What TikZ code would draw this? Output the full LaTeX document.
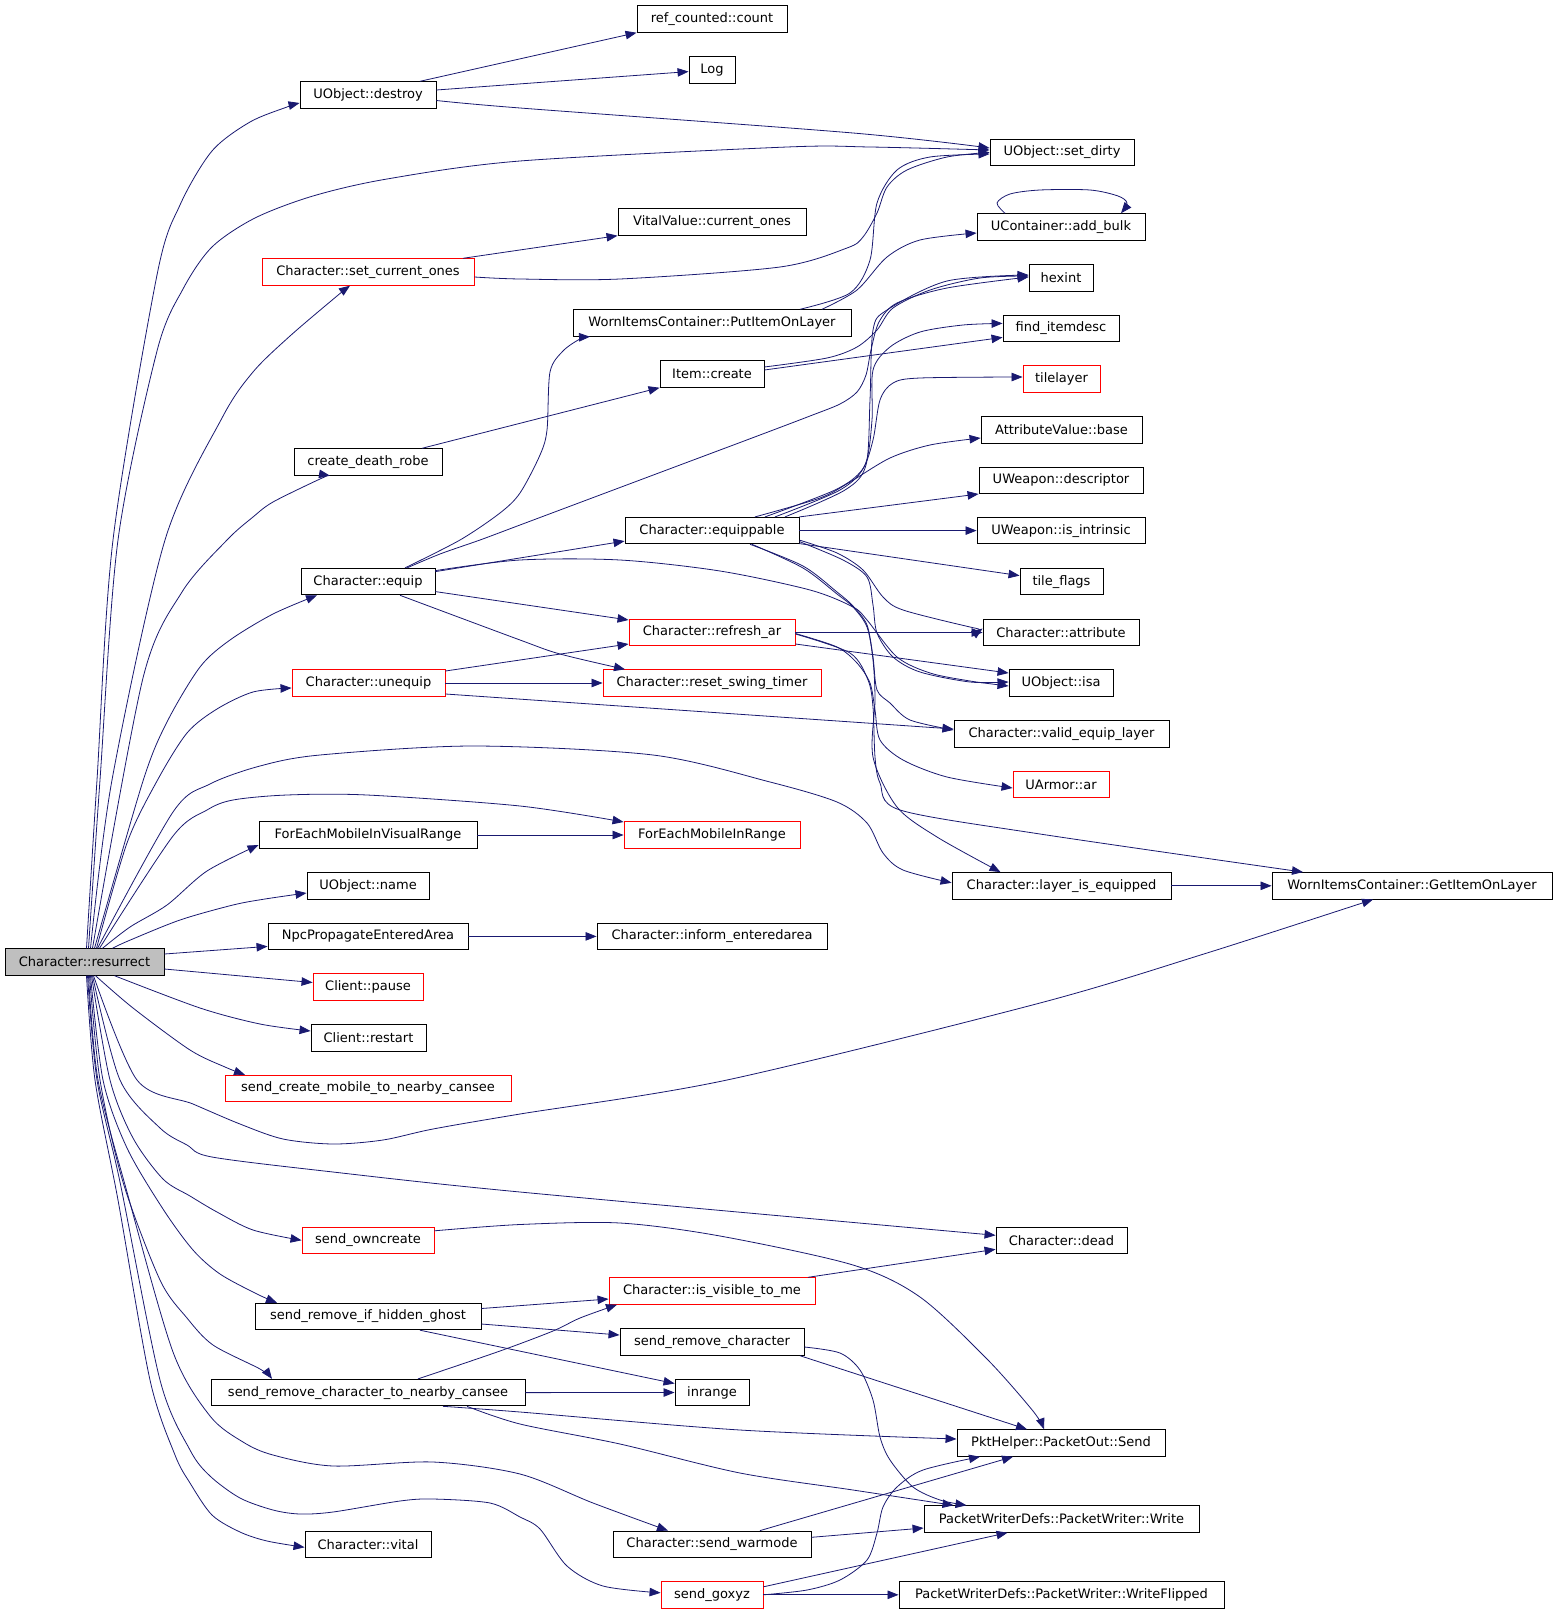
\documentclass[tikz,border=0pt]{standalone}
\usepackage{fontspec}
\setmainfont{DejaVu Sans}
\usetikzlibrary{arrows.meta}
\definecolor{edgec}{HTML}{191970}
\definecolor{rboxc}{HTML}{FF0000}
\definecolor{rootfill}{HTML}{BFBFBF}
\begin{document}
\begin{tikzpicture}[x=1pt,y=-1pt,
  box/.style={draw=black, line width=0.9pt, minimum height=26.5pt, inner sep=0pt, font=\fontsize{13}{15}\selectfont, text=black},
  rbox/.style={box, draw=rboxc},
  root/.style={box, fill=rootfill},
  e/.style={draw=edgec, line width=0.8pt, -{Triangle[length=11pt,width=8.5pt]}},
  sm/.style={smooth, tension=0.5}]
\useasboundingbox (0,0) rectangle (1557,1613);
% column 0/1
\node[root, minimum width=159] (R) at (84.5,962) {Character::resurrect};
\node[box, minimum width=136] (destroy) at (368,95) {UObject::destroy};
\node[rbox, minimum width=212] (setcur) at (368,272) {Character::set\_current\_ones};
\node[box, minimum width=148] (cdr) at (368,462) {create\_death\_robe};
\node[box, minimum width=134] (equip) at (368,581.6) {Character::equip};
\node[rbox, minimum width=153] (unequip) at (368.5,683) {Character::unequip};
\node[box, minimum width=218] (fevr) at (368,835) {ForEachMobileInVisualRange};
\node[box, minimum width=122] (oname) at (368,886) {UObject::name};
\node[box, minimum width=200] (npc) at (368,936.4) {NpcPropagateEnteredArea};
\node[rbox, minimum width=110] (pause) at (368,987) {Client::pause};
\node[box, minimum width=115] (restart) at (368.5,1038) {Client::restart};
\node[rbox, minimum width=286] (scm) at (368,1088.5) {send\_create\_mobile\_to\_nearby\_cansee};
\node[rbox, minimum width=132] (owncreate) at (368,1240.3) {send\_owncreate};
\node[box, minimum width=226] (srihg) at (368,1316.5) {send\_remove\_if\_hidden\_ghost};
\node[box, minimum width=314] (srctnc) at (368,1392.6) {send\_remove\_character\_to\_nearby\_cansee};
\node[box, minimum width=126] (vital) at (368,1544.3) {Character::vital};
% column 2
\node[box, minimum width=150] (refcount) at (712,19) {ref\_counted::count};
\node[box, minimum width=46] (log) at (712,70) {Log};
\node[box, minimum width=188] (vitalv) at (712,222) {VitalValue::current\_ones};
\node[box, minimum width=278] (putitem) at (712,323) {WornItemsContainer::PutItemOnLayer};
\node[box, minimum width=104] (icreate) at (712,374) {Item::create};
\node[box, minimum width=174] (equippable) at (712,530.6) {Character::equippable};
\node[rbox, minimum width=166] (refresh) at (712,632.5) {Character::refresh\_ar};
\node[rbox, minimum width=218] (reset) at (712,683) {Character::reset\_swing\_timer};
\node[rbox, minimum width=176] (femir) at (712,835) {ForEachMobileInRange};
\node[box, minimum width=230] (inform) at (712,936.4) {Character::inform\_enteredarea};
\node[rbox, minimum width=206] (isvis) at (712,1291) {Character::is\_visible\_to\_me};
\node[box, minimum width=184] (src) at (712,1342) {send\_remove\_character};
\node[box, minimum width=74] (inrange) at (712,1392.5) {inrange};
\node[box, minimum width=198] (warmode) at (712,1544.3) {Character::send\_warmode};
\node[rbox, minimum width=102] (goxyz) at (712,1594.8) {send\_goxyz};
% column 3
\node[box, minimum width=144] (setdirty) at (1062,152.4) {UObject::set\_dirty};
\node[box, minimum width=168] (addbulk) at (1061,227) {UContainer::add\_bulk};
\node[box, minimum width=64] (hexint) at (1061,278) {hexint};
\node[box, minimum width=116] (finditem) at (1061,328.4) {find\_itemdesc};
\node[rbox, minimum width=77] (tilelayer) at (1061.5,379) {tilelayer};
\node[box, minimum width=161] (attrbase) at (1061.5,430) {AttributeValue::base};
\node[box, minimum width=164] (descr) at (1061,480.3) {UWeapon::descriptor};
\node[box, minimum width=168] (intrinsic) at (1061,530.6) {UWeapon::is\_intrinsic};
\node[box, minimum width=83] (tileflags) at (1061.5,581.6) {tile\_flags};
\node[box, minimum width=156] (attribute) at (1061,632.5) {Character::attribute};
\node[box, minimum width=104] (isa) at (1061,683) {UObject::isa};
\node[box, minimum width=215] (valid) at (1061.5,734) {Character::valid\_equip\_layer};
\node[rbox, minimum width=96] (uarmor) at (1061,784.4) {UArmor::ar};
\node[box, minimum width=219] (lie) at (1061.5,885.8) {Character::layer\_is\_equipped};
\node[box, minimum width=131] (dead) at (1061.5,1240.3) {Character::dead};
\node[box, minimum width=208] (send) at (1061,1443) {PktHelper::PacketOut::Send};
\node[box, minimum width=275] (write) at (1061.5,1519) {PacketWriterDefs::PacketWriter::Write};
\node[box, minimum width=325] (wflip) at (1061.5,1594.8) {PacketWriterDefs::PacketWriter::WriteFlipped};
% column 4
\node[box, minimum width=280] (getitem) at (1412,885.8) {WornItemsContainer::GetItemOnLayer};

% ---- edges from Character::resurrect
\draw[e] plot[sm] coordinates {([xshift=2]R.north) (97,780) (113,540) (157,275) (180,205) (212,151) (250,122) (287,107) ([yshift=-8]destroy.west)};
\draw[e] plot[sm] coordinates {([xshift=4]R.north) (100,780) (118,540) (157,351) (183,289) (212,247) (255,218) (313,196) (387,179) (520,161) (787,147) (870,147) ([yshift=2.4]setdirty.west)};
\draw[e] plot[sm] coordinates {([xshift=6]R.north) (112,780) (165,540) (222,418) (253,372) (290,336) (337,296) ([xshift=-18]setcur.south)};
\draw[e] plot[sm] coordinates {([xshift=8]R.north) (143,678) (182,592) (227,540) (253,517) (273,502) (320,479) ([xshift=-38]cdr.south)};
\draw[e] plot[sm] coordinates {([xshift=10]R.north) (143,781) (167,722) (200,667) (230,640) (273,614) ([xshift=-51]equip.south)};
\draw[e] plot[sm] coordinates {([xshift=12]R.north) (127,843) (157,781) (187,733) (217,709) (253,692) ([yshift=-5]unequip.west)};
\draw[e] plot[sm] coordinates {([xshift=13]R.north) (173,812) (210,784) (260,766) (320,755) (473,746) (653,755) (770,782) (837,802) (867,823) (883,853) (903,870) ([yshift=3]lie.west)};
\draw[e] plot[sm] coordinates {([xshift=15]R.north) (173,836) (207,810) (233,800) (287,795) (367,795) (520,806) ([yshift=13]femir.west)};
\draw[e] plot[sm] coordinates {([xshift=18]R.north) (130,927) (167,905) (207,871) ([yshift=-10]fevr.west)};
\draw[e] plot[sm] coordinates {([xshift=28]R.north) (128,941) (180,920) (233,905) (265,899) ([yshift=-7]oname.west)};
\draw[e] ([yshift=8]R.east) -- ([yshift=-10]npc.west);
\draw[e] ([yshift=-7]R.east) -- ([yshift=4.5]pause.west);
\draw[e] plot[sm] coordinates {([xshift=30]R.south) (200,1008) (260,1024) ([yshift=7]restart.west)};
\draw[e] plot[sm] coordinates {([xshift=11]R.south) (133,1008) (190,1050) (225,1067) ([xshift=-123]scm.north)};
\draw[e] plot[sm] coordinates {([xshift=9]R.south) (137,1080) (193,1104) (240,1124) (283,1139) (333,1144) (383,1140) (433,1129) (520,1114) (727,1080) (1040,1003) (1207,953) ([xshift=-39]getitem.south)};
\draw[e] plot[sm] coordinates {([xshift=8]R.south) (120,1080) (160,1128) (187,1145) (212,1157) (333,1172) (520,1192) ([yshift=5]dead.west)};
\draw[e] plot[sm] coordinates {([xshift=7]R.south) (110,1080) (133,1138) (163,1179) (190,1196) (217,1212) (253,1230) (owncreate.west)};
\draw[e] plot[sm] coordinates {([xshift=6]R.south) (103,1080) (127,1148) (163,1209) (193,1250) (220,1274) (257,1294) ([xshift=-91]srihg.north)};
\draw[e] plot[sm] coordinates {([xshift=5]R.south) (100,1080) (123,1182) (160,1280) (187,1318) (213,1345) (260,1369) ([xshift=-96]srctnc.north)};
\draw[e] plot[sm] coordinates {([xshift=4]R.south) (98,1080) (127,1192) (173,1352) (210,1416) (243,1442) (273,1455) (333,1466) (433,1462) (520,1474) (593,1503) ([xshift=-44]warmode.north)};
\draw[e] plot[sm] coordinates {([xshift=3]R.south) (97,1080) (120,1182) (160,1380) (190,1450) (210,1476) (240,1498) (273,1510) (300,1514) (333,1512) (400,1501) (433,1499) (490,1503) (520,1517) (540,1529) (567,1566) (603,1586) ([yshift=2]goxyz.west)};
\draw[e] plot[sm] coordinates {([xshift=2]R.south) (95,1080) (118,1200) (150,1380) (175,1455) (190,1483) (212,1515) (240,1532) (267,1541) ([yshift=-3]vital.west)};

% ---- upper part
\draw[e] ([xshift=52]destroy.north) -- (refcount.south west);
\draw[e] ([yshift=5]destroy.east) -- ([yshift=-1.6]log.west);
\draw[e] plot[sm] coordinates {([yshift=-5.5]destroy.east) (520,108) (853,133) ([yshift=4.4]setdirty.west)};
\draw[e] ([xshift=95]setcur.north) -- (vitalv.south west);
\draw[e] plot[sm] coordinates {([yshift=-5]setcur.east) (520,279) (620,279) (780,267) (847,248) (863,237) (877,213) (887,187) (907,170) (947,157) (setdirty.west)};
\draw[e] ([xshift=54]cdr.north) -- (icreate.south west);
\draw[e] plot[sm] coordinates {([yshift=7]icreate.east) (827,358) (857,347) (877,330) (893,308) (930,290) (980,278) ([yshift=2]hexint.west)};
\draw[e] ([yshift=4]icreate.east) -- ([yshift=-9]finditem.west);
\draw[e] plot[sm] coordinates {([xshift=88]putitem.north) (850,293) (870,260) (877,203) (897,170) (930,157) ([yshift=-1.6]setdirty.west)};
\draw[e] plot[sm] coordinates {([xshift=110]putitem.north) (857,290) (887,257) (920,240) ([yshift=-6]addbulk.west)};
\draw[e] plot[sm] coordinates {([xshift=-56]addbulk.north) (997,203) (1010,194) (1040,190) (1090,190) (1118,196) (1127,203) ([xshift=60]addbulk.north)};
\draw[e] plot[sm] coordinates {([xshift=37]equip.north) (460,540) (500,513) (520,493) (540,455) (547,430) (550,372) (563,351) (580,339) ([xshift=-122]putitem.south)};
\draw[e] plot[sm] coordinates {([xshift=39]equip.north) (440,554) (480,540) (520,525) (600,495) (680,465) (760,435) (810,416) (840,404) (857,392) (866,375) (871,350) (879,322) (897,303) (947,288) ([yshift=1]hexint.west)};
\draw[e] ([yshift=10]equip.east) -- ([yshift=-10.5]equippable.west);
\draw[e] plot[sm] coordinates {([yshift=11]equip.east) (520,560) (620,560) (720,571) (810,590) (853,607) (867,620) (897,657) (930,673) (970,681) ([yshift=-3]isa.west)};
\draw[e] ([yshift=-10]equip.east) -- ([yshift=12.5]refresh.west);
\draw[e] plot[sm] coordinates {([xshift=32]equip.south) (520,640) (560,654) ([xshift=-87]reset.north)};
\draw[e] ([yshift=12]unequip.east) -- ([yshift=-11.5]refresh.west);
\draw[e] (unequip.east) -- (reset.west);
\draw[e] ([yshift=-11]unequip.east) -- ([yshift=5]valid.west);
\draw[e] (fevr.east) -- (femir.west);
\draw[e] (npc.east) -- (inform.west);
\draw[e] (lie.east) -- (getitem.west);
\draw[e] (refresh.east) -- (attribute.west);
\draw[e] ([yshift=-11.5]refresh.east) -- ([yshift=10]isa.west);
\draw[e] plot[sm] coordinates {([yshift=-1]refresh.east) (837,647) (857,663) (870,683) (875,710) (880,740) (903,760) (947,777) ([yshift=-3.6]uarmor.west)};
\draw[e] plot[sm] coordinates {([yshift=-1.5]refresh.east) (850,653) (868,680) (873,707) (875,757) (880,783) (900,810) (1040,834) ([xshift=-109]getitem.north)};
\draw[e] plot[sm] coordinates {([xshift=38]equippable.south) (803,566) (837,592) (853,606) (867,625) (873,657) (877,690) (890,703) (910,720) ([yshift=4]valid.west)};
\draw[e] plot[sm] coordinates {([xshift=40]equippable.south) (803,568) (837,594) (853,607) (867,627) (873,660) (875,700) (873,757) (897,807) (937,837) ([xshift=-61]lie.north)};
\draw[e] (equippable.east) -- (intrinsic.west);
\draw[e] (equippable.north east) -- (descr.south west);
\draw[e] plot[sm] coordinates {([xshift=43]equippable.north) (820,498) (850,482) (890,458) (930,445) ([yshift=-8]attrbase.west)};
\draw[e] plot[sm] coordinates {([xshift=53]equippable.north) (835,490) (862,470) (873,440) (880,400) (893,383) (920,378) ([yshift=2]tilelayer.west)};
\draw[e] plot[sm] coordinates {([xshift=63]equippable.north) (840,490) (865,465) (872,420) (873,370) (890,347) (920,332) (963,325) ([yshift=5]finditem.west)};
\draw[e] plot[sm] coordinates {([xshift=73]equippable.north) (845,490) (866,465) (870,400) (873,330) (887,310) (947,281) ([yshift=3]hexint.west)};
\draw[e] plot[sm] coordinates {([yshift=-9.5]equippable.east) (837,553) (863,570) (883,597) (903,610) (970,627) ([yshift=4]attribute.west)};
\draw[e] plot[sm] coordinates {([yshift=-11]equippable.east) (843,560) (867,577) (873,605) (877,633) (893,657) (920,672) (970,682) ([yshift=1]isa.west)};
\draw[e] ([yshift=-13]equippable.east) -- ([yshift=6]tileflags.west);

% ---- lower part
\draw[e] plot[sm] coordinates {([yshift=9.5]owncreate.east) (520,1224.5) (620,1223) (720,1236) (853,1265) (920,1297) (987,1359) (1033,1411) ([xshift=-17]send.north)};
\draw[e] ([xshift=96]isvis.north) -- ([yshift=-9]dead.west);
\draw[e] ([yshift=8]srihg.east) -- ([yshift=-8]isvis.west);
\draw[e] ([yshift=-7.5]srihg.east) -- ([yshift=7]src.west);
\draw[e] ([xshift=52]srihg.south) -- ([yshift=9]inrange.west);
\draw[e] plot[sm] coordinates {([xshift=50]srctnc.north) (500,1351) (553,1331) (580,1318) ([xshift=-95]isvis.south)};
\draw[e] (srctnc.east) -- (inrange.west);
\draw[e] plot[sm] coordinates {([xshift=75]srctnc.south) (520,1412) (740,1430) ([yshift=4]send.west)};
\draw[e] plot[sm] coordinates {([xshift=99]srctnc.south) (520,1424) (620,1444) (740,1473) (853,1490) ([xshift=-108]write.north)};
\draw[e] ([xshift=88]src.south) -- ([xshift=-34]send.north);
\draw[e] plot[sm] coordinates {([yshift=-5]src.east) (840,1353) (860,1370) (873,1400) (880,1437) (890,1460) (913,1487) (940,1500) ([xshift=-95]write.north)};
\draw[e] ([xshift=48]warmode.north) -- ([xshift=-48]send.south);
\draw[e] ([yshift=7]warmode.east) -- ([yshift=-9]write.west);
\draw[e] plot[sm] coordinates {(goxyz.east) (807,1590) (840,1580) (867,1560) (877,1533) (883,1507) (897,1487) (923,1470) ([xshift=-81]send.south)};
\draw[e] ([yshift=8]goxyz.east) -- ([xshift=-54]write.south);
\draw[e] (goxyz.east) -- (wflip.west);
\end{tikzpicture}
\end{document}
